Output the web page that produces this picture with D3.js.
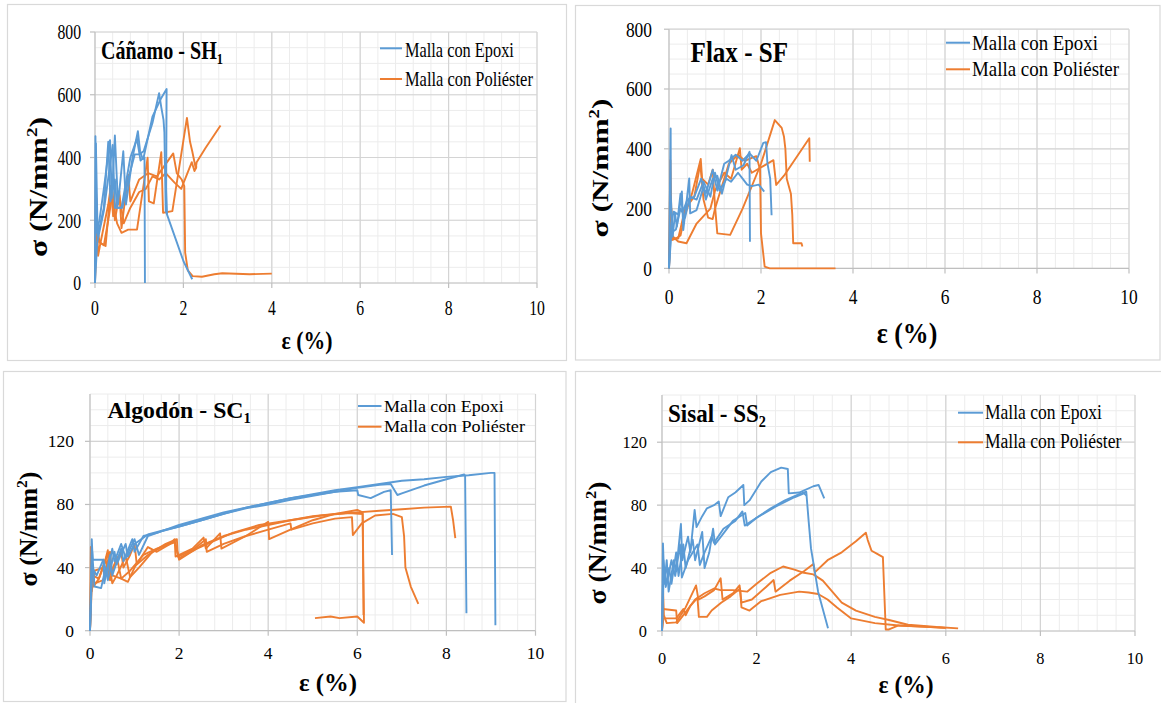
<!DOCTYPE html>
<html>
<head>
<meta charset="utf-8">
<script src="https://cdn.jsdelivr.net/npm/d3@7"></script>
<style>
  html, body { margin: 0; padding: 0; background: #fff; }
  svg { display: block; }
  text { font-family: "Liberation Serif", "DejaVu Serif", "Times New Roman", Tinos, Times, "Nimbus Roman", FreeSerif, "Noto Serif", serif; }
</style>
</head>
<body>
<div id="chart"></div>
<script>
// ---- data ----
const xTicks = [0, 2, 4, 6, 8, 10]
const yTicksTop = [0, 200, 400, 600, 800]
const yTicksBottom = [0, 40, 80, 120]
const seriesNames = ["Malla con Epoxi", "Malla con Poliéster"]

// Cáñamo - SH1 : strain (%) , stress (N/mm2)
const hempEpoxi = [
  [[0,0],[0.01,468],[0.03,160],[0.1,200],[0.2,300],[0.34,455],[0.38,270],[0.45,470],[0.52,250],[0.64,420],[0.7,250],[0.85,400],[0.97,484],[1.02,420],[1.08,395],[1.12,400],[1.13,0]],
  [[0,0],[0.02,445],[0.06,150],[0.2,240],[0.3,450],[0.35,260],[0.45,330],[0.5,240],[0.62,240],[0.75,330],[0.9,410],[1.0,410],[1.1,420],[1.3,510],[1.45,605],[1.5,560],[1.55,520],[1.57,480],[1.6,230],[1.8,150],[2.0,70],[2.2,12]],
  [[0,0],[0.05,130],[0.2,230],[0.4,440],[0.45,240],[0.6,240],[0.8,400],[0.95,460],[1.03,390],[1.1,400],[1.3,530],[1.5,590],[1.62,618],[1.61,300],[1.63,220]]
]
const hempPoly = [
  [[0,0],[0.02,314],[0.05,150],[0.1,130],[0.24,118],[0.36,309],[0.41,213],[0.55,293],[0.6,175],[0.75,345],[0.8,260],[1.0,330],[1.2,350],[1.4,340],[1.77,413],[1.85,350],[1.96,330],[2.02,309],[2.04,97],[2.1,40],[2.21,22],[2.42,20],[2.7,28],[2.88,31],[3.5,28],[4.0,30]],
  [[0,0],[0.03,270],[0.07,87],[0.12,125],[0.3,250],[0.35,300],[0.5,190],[0.6,160],[0.75,170],[0.95,170],[1.19,399],[1.22,260],[1.33,254],[1.5,417],[1.54,224],[1.75,229],[2.08,526],[2.15,450],[2.2,420],[2.28,365],[2.3,385],[2.5,430],[2.84,502]],
  [[0,0],[0.04,200],[0.1,130],[0.2,120],[0.3,200],[0.4,290],[0.45,200],[0.55,280],[0.65,190],[0.8,240],[1.0,290],[1.15,300],[1.3,340],[1.45,330],[1.6,350],[1.8,320],[1.95,300],[2.19,385],[2.25,357],[2.3,372]]
]

// Flax - SF
const flaxEpoxi = [
  [[0,0],[0.036,468],[0.04,240],[0.08,106],[0.13,184],[0.17,140],[0.28,257],[0.31,128],[0.44,301],[0.46,184],[0.6,195],[0.75,273],[0.8,230],[0.95,300],[1.05,310],[1.15,250],[1.36,379],[1.45,330],[1.62,345],[1.75,390],[1.76,89]],
  [[0,0],[0.05,150],[0.1,190],[0.2,180],[0.25,250],[0.3,190],[0.4,230],[0.55,240],[0.7,300],[0.8,250],[0.95,330],[1.05,260],[1.2,350],[1.3,360],[1.45,380],[1.6,360],[1.75,385],[1.9,360],[2.05,420],[2.11,422],[2.14,351],[2.2,300],[2.23,178]],
  [[0,0],[0.05,120],[0.15,130],[0.25,200],[0.35,170],[0.45,240],[0.6,230],[0.75,290],[0.9,240],[1.0,320],[1.1,260],[1.25,300],[1.35,290],[1.5,320],[1.6,300],[1.7,280],[1.8,275],[1.95,280],[2.07,257]]
]
const flaxPoly = [
  [[0,0],[0.03,362],[0.06,95],[0.15,100],[0.25,110],[0.35,180],[0.5,250],[0.69,366],[0.72,300],[0.85,280],[0.95,330],[1.0,210],[1.05,117],[1.33,112],[1.6,200],[2.0,350],[2.3,496],[2.45,470],[2.5,440],[2.53,400],[2.56,300],[2.65,250],[2.68,180],[2.7,84],[2.88,84],[2.9,73]],
  [[0,0],[0.04,230],[0.06,110],[0.2,90],[0.38,84],[0.6,150],[0.9,200],[1.0,260],[1.1,290],[1.2,320],[1.35,300],[1.54,402],[1.58,330],[1.7,350],[1.8,320],[2.27,362],[2.33,279],[2.5,310],[3.05,435],[3.06,357]],
  [[0,0],[0.05,200],[0.08,100],[0.2,100],[0.35,200],[0.55,240],[0.68,350],[0.75,230],[0.85,170],[0.95,165],[1.0,200],[1.2,300],[1.3,350],[1.5,380],[1.65,360],[1.8,370],[1.9,375],[1.98,330],[2.0,117],[2.08,6],[2.19,0],[3.0,0],[3.62,0]]
]

// Algodón - SC1
const cottonEpoxi = [
  [[0,0],[0.04,58],[0.06,45],[0.3,45],[0.32,30],[0.45,48],[0.5,35],[0.7,52],[0.75,44],[0.95,58],[1.0,50],[1.2,60],[1.5,62],[2,67],[2.5,71],[3,75],[3.5,78],[4,81],[4.5,84],[5,86],[5.5,88],[6,89],[6.02,86],[6.3,84],[6.6,88],[6.75,89],[6.78,48]],
  [[0,0],[0.05,50],[0.1,28],[0.25,27],[0.35,40],[0.4,32],[0.55,50],[0.6,42],[0.8,55],[0.85,47],[1.0,55],[1.3,61],[1.7,64],[2,66],[2.5,70],[3,74],[3.5,77.5],[4,80],[4.5,83],[5,85.5],[5.5,88],[6,90.5],[6.5,92.5],[6.75,93],[6.9,86],[7.0,87],[7.5,92],[8,96],[8.4,99],[8.42,98],[8.45,11]],
  [[0,0],[0.05,40],[0.15,35],[0.3,45],[0.38,35],[0.5,52],[0.55,44],[0.7,55],[0.8,46],[1.0,58],[1.1,48],[1.3,60],[1.6,63],[2,66],[2.5,70],[3,74],[3.5,78],[4,81],[4.5,84],[5,86.5],[5.5,89],[6,91],[6.5,93],[7,95],[7.5,96],[8,97.5],[8.5,98.5],[9.0,100],[9.08,100],[9.1,3.5]]
]
const cottonPoly = [
  [[0,0],[0.02,53],[0.04,25],[0.1,38],[0.3,40],[0.4,51],[0.45,36],[0.6,45],[0.7,50],[0.75,40],[0.9,48],[1.0,55],[1.05,42],[1.3,48],[1.6,53],[1.9,57],[2.0,45],[2.5,54],[3,60],[3.5,64],[4,67],[4.5,70],[5,72.5],[5.5,74],[6,75],[6.5,76],[7,77],[7.5,78],[8.1,78.6],[8.15,70],[8.2,58.7]],
  [[0,0],[0.03,45],[0.1,30],[0.3,32],[0.45,50],[0.5,35],[0.7,33],[0.85,31],[1.0,40],[1.3,53],[1.5,50],[1.8,55],[1.9,58],[1.92,47],[2.3,52],[2.55,59],[2.6,52],[2.92,61.7],[2.95,52],[3.5,60],[4.0,69],[4.02,58],[4.5,64],[5,70],[5.5,74],[6.0,76.5],[6.12,75],[6.15,5],[6.0,9],[5.6,8],[5.4,9],[5.05,8]],
  [[0,0],[0.04,40],[0.08,28],[0.2,33],[0.4,49],[0.5,30],[0.6,35],[0.8,47],[0.9,34],[1.1,40],[1.4,50],[1.7,55],[1.95,58],[1.97,47],[2.3,51],[2.6,58],[2.62,50],[3,55],[3.5,60],[4,64],[4.5,68],[4.52,64],[5,68],[5.5,71],[5.88,72],[5.9,60.6],[6.1,68],[6.4,73],[6.8,74],[7.0,72],[7.05,60],[7.08,40],[7.2,28],[7.37,17]],
  [[0,0],[0.05,35],[0.2,33],[0.35,45],[0.45,32],[0.6,47],[0.7,33],[0.9,38],[1.2,48],[1.5,52],[1.9,56],[2.0,46],[2.4,52],[2.8,57],[3.2,62],[3.8,67],[4.5,70],[5.2,73],[5.8,74.5],[6.12,74],[6.14,10]]
]

// Sisal - SS2
const sisalEpoxi = [
  [[0,0],[0.02,55.7],[0.05,30],[0.1,45],[0.14,25],[0.25,45],[0.3,38],[0.4,68],[0.43,45],[0.55,60],[0.6,50],[0.69,77],[0.73,66],[0.85,73],[0.95,78],[1.1,80],[1.2,82.3],[1.24,73],[1.4,85],[1.55,88],[1.72,92.8],[1.74,80],[1.85,83],[2.1,95],[2.3,101],[2.52,103.8],[2.66,103],[2.68,87.5],[2.9,88],[3.2,92],[3.31,92.8],[3.43,84.3]],
  [[0,0],[0.03,45],[0.08,28],[0.15,40],[0.2,30],[0.3,50],[0.35,35],[0.45,55],[0.5,40],[0.65,58],[0.7,45],[0.85,63],[0.9,40],[1.0,50],[1.08,65],[1.12,55],[1.3,62],[1.5,70],[1.76,75],[1.8,67],[2.0,72],[2.3,78],[2.6,83],[2.9,87],[3.05,88.5],[3.1,70],[3.15,52.5],[3.3,25],[3.51,1.7]],
  [[0,0],[0.04,40],[0.1,30],[0.2,45],[0.28,35],[0.38,55],[0.42,34],[0.55,45],[0.75,55],[0.8,42],[0.9,50],[1.05,60],[1.1,56],[1.3,65],[1.55,70],[1.7,76],[1.75,67],[2.0,72],[2.4,79],[2.8,85],[3.0,87.5],[3.06,86]]
]
const sisalPoly = [
  [[0,0],[0.02,28],[0.04,10],[0.1,5],[0.3,5.5],[0.5,15],[0.72,29],[0.77,20],[0.9,22],[1.1,26],[1.24,33.5],[1.28,20],[1.5,24],[1.64,29],[1.68,18],[1.9,20],[2.2,28],[2.36,32.4],[2.4,25],[2.7,32],[3.0,38],[3.2,42.6],[3.23,37.3],[3.5,45],[3.8,50],[4.1,57],[4.31,62.5],[4.35,57.8],[4.43,51],[4.55,49],[4.67,47],[4.73,1],[4.8,1],[5.0,3.5],[5.4,3],[6.0,2]],
  [[0,0],[0.02,14],[0.3,13],[0.32,5],[0.5,12],[0.7,20],[0.9,24],[1.1,27],[1.24,26],[1.5,26],[1.8,25],[2.0,30],[2.3,37],[2.56,41],[2.8,39],[3.0,37],[3.2,36],[3.4,32],[3.6,25],[3.8,18],[4.1,13],[4.5,9],[4.8,7],[5.2,4],[5.8,2.5],[6.26,1.7]],
  [[0,0],[0.03,8],[0.3,8],[0.45,14],[0.5,10],[0.6,16],[0.75,21],[0.78,9],[0.95,9],[1.05,13],[1.25,18],[1.45,22],[1.65,27],[1.68,15],[1.85,13],[2.1,19],[2.5,23],[2.9,25],[3.1,24.5],[3.3,23.5],[3.5,20],[3.7,15],[4.0,8],[4.5,5],[5.0,3.5],[6.0,2]]
]

// ---- layout ----
const W = 1161, H = 703
const BLUE = "#5b9bd5", ORANGE = "#ed7d31"

const panels = [
  { epoxi: hempEpoxi, poly: hempPoly, yMax: 800, yTicks: yTicksTop, yMinor: 50,
    box: [7.5, 4.5, 559, 356], x0: 95, x1: 537, yB: 283, yT: 32,
    tick: { size: 21.5, sx: 0.73, yRight: 81, xBase: 315 },
    title: { parts: [["Cáñamo - SH"], ["1", "sub"]], x: 101, y: 59.3, size: 25, fit: 122 },
    legend: { lx: [380, 402], ly: [48.3, 79], tx: 405, ty: [56.7, 86], size: 20, fit: [109, 128] },
    xt: { x: 307, y: 349, size: 26, fit: 51 },
    yt: { x: 46.5, y: 187, size: 25, fit: 140 } },
  { epoxi: flaxEpoxi, poly: flaxPoly, yMax: 800, yTicks: yTicksTop, yMinor: 50,
    box: [575.5, 5.5, 584.5, 354.5], x0: 669, x1: 1129, yB: 268.4, yT: 29.2,
    tick: { size: 21.5, sx: 0.81, yRight: 652, xBase: 303.7 },
    title: { parts: [["Flax - SF"]], x: 690.6, y: 61.5, size: 30, fit: 97.4 },
    legend: { lx: [946, 970], ly: [42.7, 69.3], tx: 972, ty: [49.8, 76.4], size: 21, fit: [126, 147] },
    xt: { x: 907, y: 343, size: 30, fit: 60.5 },
    yt: { x: 608, y: 168, size: 23, fit: 139 } },
  { epoxi: cottonEpoxi, poly: cottonPoly, yMax: 150, yTicks: yTicksBottom, yMinor: 10,
    box: [3.5, 371.5, 562.5, 330], x0: 90, x1: 535.5, yB: 630.7, yT: 394,
    tick: { size: 17.5, sx: 1, yRight: 74, xBase: 659.4 },
    title: { parts: [["Algodón - SC"], ["1", "sub"]], x: 107.4, y: 418.3, size: 23, fit: 143.6 },
    legend: { lx: [358, 381.5], ly: [406, 426.7], tx: 384, ty: [411.7, 431.7], size: 17.6, fit: [119.7, 141] },
    xt: { x: 328, y: 691, size: 24.5, fit: 58 },
    yt: { x: 37, y: 529, size: 25, fit: 115 } },
  { epoxi: sisalEpoxi, poly: sisalPoly, yMax: 150, yTicks: yTicksBottom, yMinor: 10,
    box: [575.5, 371.5, 600, 340], x0: 662, x1: 1135, yB: 631, yT: 395,
    tick: { size: 17.6, sx: 0.93, yRight: 647, xBase: 664 },
    title: { parts: [["Sisal - SS"], ["2", "sub"]], x: 668, y: 421.7, size: 26, fit: 98 },
    legend: { lx: [958, 983], ly: [412.7, 442.3], tx: 985, ty: [419, 448.3], size: 20, fit: [117, 136.4] },
    xt: { x: 906, y: 693, size: 25, fit: 55 },
    yt: { x: 606, y: 543, size: 25.7, fit: 123 } }
]

const svg = d3.select("#chart").append("svg")
  .attr("width", W).attr("height", H)

// text with a horizontal squeeze so it fills the width seen in the picture
function addText(g, o) {
  const t = g.append("text")
    .style("font-size", o.size + "px")
    .style("font-weight", o.weight || "normal")
    .attr("text-anchor", o.anchor || "start")
    .attr("fill", "#000")
  let shift = 0
  o.parts.forEach(p => {
    const ts = t.append("tspan").text(p[0])
    if (p[1] === "sub") {
      ts.style("font-size", (o.size * 0.62) + "px").attr("dy", o.size * 0.2 - shift); shift = o.size * 0.2
    } else if (p[1] === "sup") {
      ts.style("font-size", (o.size * 0.6) + "px").attr("dy", -o.size * 0.4 - shift); shift = -o.size * 0.4
    } else if (shift !== 0) {
      ts.attr("dy", -shift); shift = 0
    }
  })
  const w = t.node().getComputedTextLength()
  const s = o.fit ? o.fit / w : (o.sx || 1)
  t.attr("transform", `translate(${o.x},${o.y}) rotate(${o.rot || 0}) scale(${s},1)`)
  return t
}

panels.forEach(p => {
  const g = svg.append("g")

  // panel frame
  g.append("rect")
    .attr("x", p.box[0]).attr("y", p.box[1])
    .attr("width", p.box[2]).attr("height", p.box[3])
    .attr("fill", "#fff").attr("stroke", "#d9d9d9").attr("stroke-width", 1.2)

  const x = d3.scaleLinear().domain([0, 10]).range([p.x0, p.x1])
  const y = d3.scaleLinear().domain([0, p.yMax]).range([p.yB, p.yT])

  // minor grid
  const xMinor = d3.range(0, 10.001, 0.4)
  const yMinor = d3.range(0, p.yMax + 0.001, p.yMinor)
  g.append("g").selectAll("line").data(xMinor).join("line")
    .attr("x1", d => x(d)).attr("x2", d => x(d))
    .attr("y1", p.yB).attr("y2", p.yT)
    .attr("stroke", "#ececec").attr("stroke-width", 1)
  g.append("g").selectAll("line").data(yMinor).join("line")
    .attr("x1", p.x0).attr("x2", p.x1)
    .attr("y1", d => y(d)).attr("y2", d => y(d))
    .attr("stroke", "#ececec").attr("stroke-width", 1)

  // major grid
  g.append("g").selectAll("line").data(xTicks.slice(1)).join("line")
    .attr("x1", d => x(d)).attr("x2", d => x(d))
    .attr("y1", p.yB).attr("y2", p.yT)
    .attr("stroke", "#d4d4d4").attr("stroke-width", 1.2)
  g.append("g").selectAll("line").data(p.yTicks.slice(1)).join("line")
    .attr("x1", p.x0).attr("x2", p.x1)
    .attr("y1", d => y(d)).attr("y2", d => y(d))
    .attr("stroke", "#d4d4d4").attr("stroke-width", 1.2)

  // axes lines and tick marks
  const axisColor = "#bfbfbf"
  g.append("line").attr("x1", p.x0).attr("x2", p.x0).attr("y1", p.yB).attr("y2", p.yT)
    .attr("stroke", axisColor).attr("stroke-width", 1.2)
  g.append("line").attr("x1", p.x0).attr("x2", p.x1).attr("y1", p.yB).attr("y2", p.yB)
    .attr("stroke", axisColor).attr("stroke-width", 1.2)
  g.append("g").selectAll("line").data(p.yTicks).join("line")
    .attr("x1", p.x0 - 5).attr("x2", p.x0)
    .attr("y1", d => y(d)).attr("y2", d => y(d))
    .attr("stroke", axisColor).attr("stroke-width", 1.2)
  g.append("g").selectAll("line").data(xTicks).join("line")
    .attr("x1", d => x(d)).attr("x2", d => x(d))
    .attr("y1", p.yB).attr("y2", p.yB + 5)
    .attr("stroke", axisColor).attr("stroke-width", 1.2)

  // tick labels
  p.yTicks.forEach(v => addText(g, { parts: [[String(v)]], x: p.tick.yRight, y: y(v) + p.tick.size * 0.34,
    size: p.tick.size, sx: p.tick.sx, anchor: "end" }))
  xTicks.forEach(v => addText(g, { parts: [[String(v)]], x: x(v), y: p.tick.xBase,
    size: p.tick.size, sx: p.tick.sx, anchor: "middle" }))

  // curves
  const line = d3.line().x(d => x(d[0])).y(d => y(d[1]))
  const drawSet = (set, color) => g.append("g").selectAll("path").data(set).join("path")
    .attr("d", line).attr("fill", "none")
    .attr("stroke", color).attr("stroke-width", 1.9)
    .attr("stroke-linejoin", "round")
  drawSet(p.poly, ORANGE)
  drawSet(p.epoxi, BLUE)

  // legend
  ;[BLUE, ORANGE].forEach((c, i) => {
    g.append("line").attr("x1", p.legend.lx[0]).attr("x2", p.legend.lx[1])
      .attr("y1", p.legend.ly[i]).attr("y2", p.legend.ly[i])
      .attr("stroke", c).attr("stroke-width", 2)
    addText(g, { parts: [[seriesNames[i]]], x: p.legend.tx, y: p.legend.ty[i],
      size: p.legend.size, fit: p.legend.fit[i] })
  })

  // panel title
  addText(g, { parts: p.title.parts, x: p.title.x, y: p.title.y, size: p.title.size,
    fit: p.title.fit, weight: "bold" })

  // axis titles
  addText(g, { parts: [["ε (%)"]], x: p.xt.x, y: p.xt.y, size: p.xt.size, fit: p.xt.fit,
    weight: "bold", anchor: "middle" })
  addText(g, { parts: [["σ (N/mm"], ["2", "sup"], [")"]], x: p.yt.x, y: p.yt.y, size: p.yt.size,
    fit: p.yt.fit, weight: "bold", anchor: "middle", rot: -90 })
})
</script>
</body>
</html>
